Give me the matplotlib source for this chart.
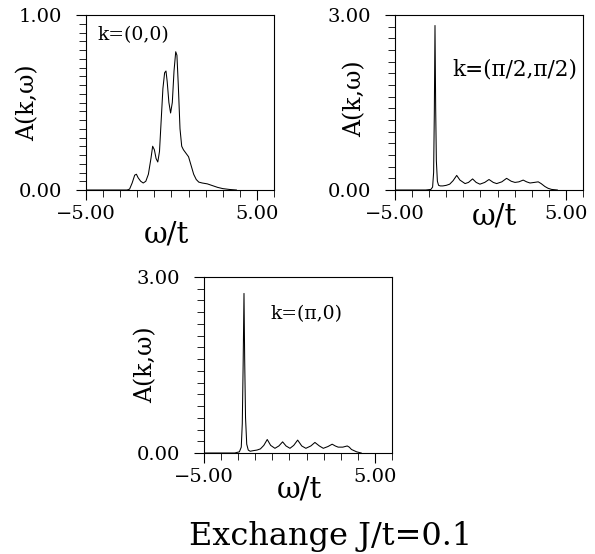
import matplotlib
matplotlib.use("Agg")
import matplotlib.pyplot as plt
from matplotlib.ticker import FixedLocator, MultipleLocator

plt.rcParams['font.family'] = ['DejaVu Serif']

# ---- data ----
w00 = [-5.0, -2.6, -2.45, -2.3, -2.15, -2.05, -1.95, -1.8, -1.65, -1.5, -1.35, -1.2, -1.1,
       -1.0, -0.9, -0.8, -0.7, -0.6, -0.5, -0.4, -0.32, -0.25, -0.15, -0.05, 0.05, 0.15,
       0.25, 0.32, 0.4, 0.5, 0.6, 0.7, 0.85, 1.0, 1.15, 1.3, 1.45, 1.6, 1.8, 2.1, 2.4,
       2.7, 3.0, 3.4, 3.8]
a00 = [0.0, 0.0, 0.005, 0.04, 0.085, 0.09, 0.07, 0.05, 0.04, 0.05, 0.09, 0.18, 0.25,
       0.23, 0.18, 0.16, 0.22, 0.40, 0.58, 0.67, 0.68, 0.62, 0.50, 0.44, 0.50, 0.68,
       0.79, 0.77, 0.60, 0.35, 0.25, 0.23, 0.21, 0.19, 0.14, 0.09, 0.06, 0.045, 0.04,
       0.035, 0.025, 0.015, 0.008, 0.003, 0.0]

w_pp = [-5.0, -3.2, -2.9, -2.8, -2.74, -2.7, -2.66, -2.62, -2.58, -2.52, -2.45, -2.35,
        -2.2, -2.0, -1.8, -1.6, -1.39, -1.2, -0.9, -0.7, -0.46, -0.25, -0.03, 0.25, 0.5,
        0.75, 0.95, 1.25, 1.53, 1.8, 2.02, 2.25, 2.5, 2.7, 2.9, 3.15, 3.38, 3.55, 3.77,
        3.95, 4.16, 4.5]
a_pp = [0.0, 0.0, 0.01, 0.05, 0.3, 1.3, 2.82, 1.4, 0.5, 0.15, 0.08, 0.07, 0.07, 0.08,
        0.10, 0.16, 0.25, 0.17, 0.11, 0.13, 0.19, 0.13, 0.10, 0.13, 0.18, 0.13, 0.11,
        0.14, 0.20, 0.15, 0.13, 0.14, 0.17, 0.14, 0.12, 0.13, 0.14, 0.11, 0.06, 0.03,
        0.01, 0.0]

w_p0 = [-5.0, -3.2, -2.93, -2.82, -2.76, -2.71, -2.66, -2.62, -2.57, -2.5, -2.41, -2.3,
        -2.12, -1.9, -1.7, -1.5, -1.3, -1.1, -0.85, -0.62, -0.40, -0.2, 0.03, 0.25, 0.48,
        0.72, 0.96, 1.25, 1.49, 1.75, 1.98, 2.25, 2.5, 2.68, 2.85, 3.12, 3.38, 3.5, 3.63,
        3.93, 4.2]
a_p0 = [0.0, 0.0, 0.02, 0.1, 0.5, 1.5, 2.72, 1.6, 0.6, 0.15, 0.05, 0.03, 0.04, 0.05,
        0.07, 0.13, 0.23, 0.13, 0.08, 0.12, 0.19, 0.12, 0.08, 0.13, 0.22, 0.12, 0.08,
        0.12, 0.18, 0.12, 0.08, 0.11, 0.15, 0.12, 0.10, 0.10, 0.12, 0.10, 0.06, 0.02, 0.0]

labels_k = ["k=(0,0)", "k=(π/2,π/2)", "k=(π,0)"]
ymax = [1.0, 3.0, 3.0]
ytick_labels = [["0.00", "1.00"], ["0.00", "3.00"], ["0.00", "3.00"]]
xtick_labels = ["\u22125.00", "5.00"]

fig = plt.figure(figsize=(5.95, 5.54), dpi=100)
rects = [[86/595, 1-190/554, 188/595, 175/554],
         [395/595, 1-190/554, 188/595, 175/554],
         [204/595, 1-453/554, 188/595, 176/554]]
series = [(w00, a00), (w_pp, a_pp), (w_p0, a_p0)]
minor_step = [0.05, 0.2, 0.2]
klab_pos = [(0.25, 0.886), (0.638, 0.686), (0.543, 0.79)]
klab_size = [13.5, 15.5, 13.5]
ylab_pos = [(-0.31, 0.5), (-0.213, 0.52), (-0.31, 0.5)]
xlab_pos = [(0.426, -0.257), (0.527, -0.15), (0.505, -0.205)]

for i in range(3):
    ax = fig.add_axes(rects[i])
    x, y = series[i]
    ax.plot(x, y, color='black', lw=0.75)
    ax.set_xlim(-5, 6)
    ax.set_ylim(0, ymax[i])
    for s in ax.spines.values():
        s.set_linewidth(0.8)
    ax.xaxis.set_major_locator(FixedLocator([-5, 5]))
    ax.xaxis.set_minor_locator(FixedLocator([-4, -3, -2, -1, 0, 1, 2, 3, 4, 6]))
    ax.set_xticklabels(xtick_labels)
    ax.yaxis.set_major_locator(FixedLocator([0, ymax[i]]))
    ax.yaxis.set_minor_locator(MultipleLocator(minor_step[i]))
    ax.set_yticklabels(ytick_labels[i])
    ax.tick_params(which='major', direction='out', length=7.5, width=0.8,
                   labelsize=14, top=False, right=False)
    ax.tick_params(which='minor', direction='out', length=5, width=0.6,
                   top=False, right=False)
    ax.tick_params(axis='y', which='major', pad=10)
    ax.tick_params(axis='x', which='major', pad=3)
    ax.text(klab_pos[i][0], klab_pos[i][1], labels_k[i], transform=ax.transAxes,
            ha='center', va='center', fontsize=klab_size[i])
    ax.text(ylab_pos[i][0], ylab_pos[i][1], "A(k,ω)", transform=ax.transAxes,
            ha='center', va='center', rotation=90, fontsize=17)
    ax.text(xlab_pos[i][0], xlab_pos[i][1], "ω/t", transform=ax.transAxes,
            ha='center', va='center', fontsize=21)

fig.text(331/595, 1-536/554, "Exchange J/t=0.1", ha='center', va='center', fontsize=23)

fig.savefig("out.png", dpi=100)
